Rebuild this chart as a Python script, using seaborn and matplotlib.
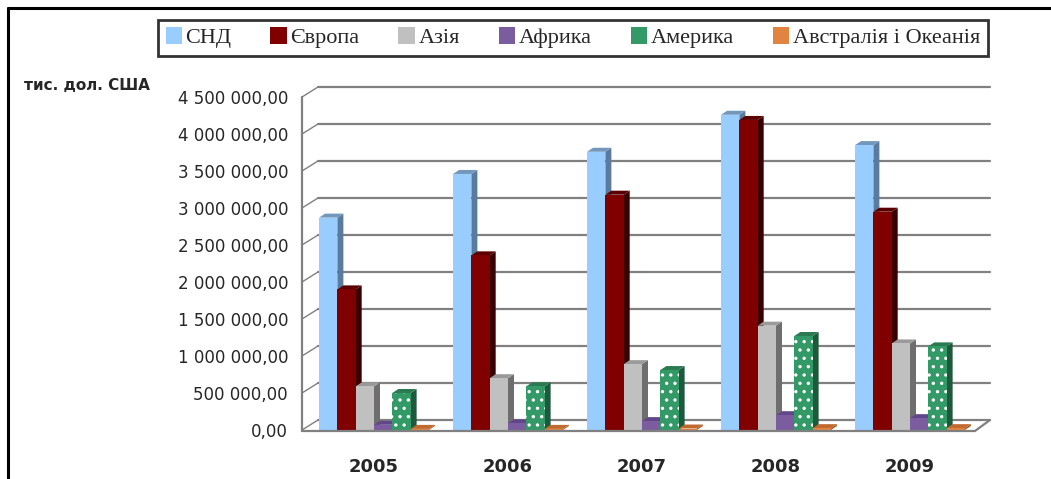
import matplotlib
matplotlib.use("Agg")
import matplotlib.pyplot as plt
from matplotlib.patches import Patch, Polygon
from matplotlib.lines import Line2D
from matplotlib.transforms import IdentityTransform
import pandas as pd
import seaborn as sns

# values, тис. дол. США
years = ["2005", "2006", "2007", "2008", "2009"]
regions = ["СНД", "Європа", "Азія", "Африка", "Америка", "Австралія і Океанія"]
snd = [2870000, 3460000, 3760000, 4260000, 3850000]
europe = [1900000, 2360000, 3180000, 4190000, 2950000]
asia = [590000, 700000, 890000, 1410000, 1170000]
africa = [70000, 90000, 120000, 200000, 160000]
america = [500000, 590000, 810000, 1270000, 1130000]
oceania = [15000, 15000, 20000, 25000, 25000]
yticks = [0, 500000, 1000000, 1500000, 2000000, 2500000, 3000000, 3500000, 4000000, 4500000]

front_colors = ["#99CCFF", "#800000", "#C0C0C0", "#7B5C9E", "#339966", "#E0843F"]
side_colors = ["#5A7A9E", "#3A0000", "#6E6E6E", "#4E3670", "#1D5A3C", "#A0582A"]
top_colors = ["#7396BC", "#5A0000", "#9A9A9A", "#62468A", "#2A7A52", "#C06A30"]

rows = []
for region, values in zip(regions, [snd, europe, asia, africa, america, oceania]):
    for year, v in zip(years, values):
        rows.append({"year": year, "region": region, "value": v})
data = pd.DataFrame(rows)

sns.set_style("white")
plt.rcParams["font.family"] = ["DejaVu Sans"]
plt.rcParams["hatch.linewidth"] = 1.2

fig = plt.figure(figsize=(10.51, 4.79), dpi=100)
ax = fig.add_axes([302 / 1051, 1 - 430 / 479, 675 / 1051, 333 / 479])

sns.barplot(data=data, x="year", y="value", hue="region", hue_order=regions,
            palette=dict(zip(regions, front_colors)), saturation=1, width=0.82,
            errorbar=None, legend=False, ax=ax)

ax.set_xlim(-0.5 - 5 / 134, 4.5)
ax.set_ylim(0, 4500000)
for s in ax.spines.values():
    s.set_visible(False)
ax.set_xlabel("")
ax.set_ylabel("")


def fmt(v):
    return f"{v:,.2f}".replace(",", " ").replace(".", ",")


ax.set_yticks(yticks)
ax.set_yticklabels([fmt(v) for v in yticks], fontsize=12)
ax.tick_params(axis="y", length=4, color="#808080", width=1.2, pad=6)
ax.tick_params(axis="x", length=0, pad=20)
ax.set_xticks(range(len(years)))
ax.set_xticklabels(years, fontsize=13, fontweight="heavy")

ident = IdentityTransform()
grey = "#808080"


def px(x, y):
    return ax.transData.transform((x, y))


# back wall grid and 3d axis decorations
bx, by = 16, 10
xl0, xl1 = ax.get_xlim()
for v in yticks:
    x0, y0 = px(xl0, v)
    x1, _ = px(xl1, v)
    ax.add_line(Line2D([x0 + bx, x1 + 13], [y0 + by, y0 + by], transform=ident,
                       color=grey, lw=1.6, clip_on=False, zorder=1))
    ax.add_line(Line2D([x0, x0 + bx], [y0, y0 + by], transform=ident,
                       color=grey, lw=1.0, clip_on=False, zorder=1))
fx0, fy0 = px(xl0, 0)
fx1, fy1 = px(xl0, yticks[-1])
ax.add_line(Line2D([fx0, fx0], [fy0 - 1, fy1], transform=ident, color=grey, lw=1.6,
                   clip_on=False, zorder=1))
ex, _ = px(xl1, 0)
ax.add_line(Line2D([fx0, ex - 2, ex + 13], [fy0 - 1, fy0 - 1, fy0 + by], transform=ident,
                   color=grey, lw=1.6, clip_on=False, zorder=6))

# 3d look for the bars
dx, dy = 6, 4
for h_idx, container in enumerate(ax.containers):
    for bar in container:
        bar.set_zorder(3 + h_idx * 0.1 + 0.05)
        bar.set_linewidth(0)
        if regions[h_idx] == "Америка":
            bar.set_hatch("..")
            bar.set_edgecolor("white")
        x0, yb = px(bar.get_x(), 0)
        x1, yt = px(bar.get_x() + bar.get_width(), bar.get_height())
        side = Polygon([(x1, yb), (x1 + dx, yb + dy), (x1 + dx, yt + dy), (x1, yt)],
                       closed=True, transform=ident, facecolor=side_colors[h_idx],
                       edgecolor="none", zorder=3 + h_idx * 0.1, clip_on=False)
        top = Polygon([(x0, yt), (x1, yt), (x1 + dx, yt + dy), (x0 + dx, yt + dy)],
                      closed=True, transform=ident, facecolor=top_colors[h_idx],
                      edgecolor="none", zorder=3 + h_idx * 0.1, clip_on=False)
        ax.add_patch(side)
        ax.add_patch(top)

handles = [Patch(facecolor=c, edgecolor="none") for c in front_colors]
leg = fig.legend(handles, regions, loc="center", bbox_to_anchor=(0.545, 0.921), ncol=6,
                 frameon=True, fancybox=False, edgecolor="black",
                 prop={"family": "Liberation Serif", "size": 16},
                 handlelength=0.75, handleheight=0.75, handletextpad=0.15,
                 columnspacing=1.75, borderpad=0.35, borderaxespad=0)
leg.get_frame().set_linewidth(2)

fig.text(24 / 1051, 1 - 85 / 479, "тис. дол. США", fontsize=11, fontweight="bold",
         va="center", ha="left")

# outer frame (left and top edges)
fig.add_artist(Line2D([8 / 1051, 8 / 1051], [0, 1 - 8 / 479], transform=fig.transFigure,
                      color="black", lw=2.2))
fig.add_artist(Line2D([8 / 1051, 1], [1 - 8 / 479, 1 - 8 / 479], transform=fig.transFigure,
                      color="black", lw=2.2))

fig.savefig("out.png", dpi=100)
